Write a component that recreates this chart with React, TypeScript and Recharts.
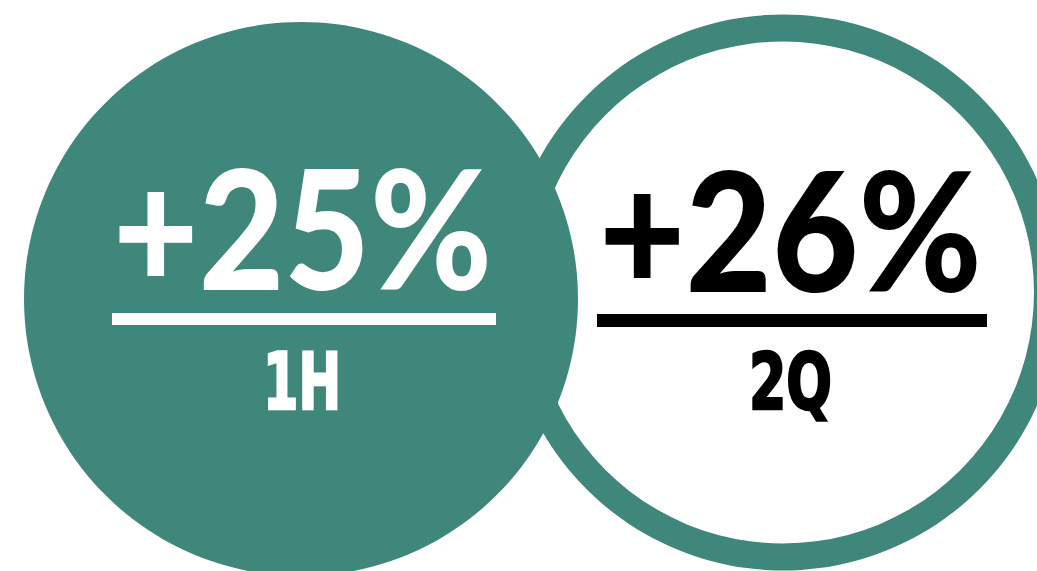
import React from 'react';
import { PieChart, Pie, Cell } from 'recharts';

const periods = ['1H', '2Q'];
const changes = [25, 26];
const changeLabels = ['+25%', '+26%'];

const TEAL = '#40877B';
const W = 1037;
const H = 571;

const leftData = [{ name: periods[0], value: changes[0] }];
const rightData = [{ name: periods[1], value: changes[1] }];

const bigFont = "Lato, 'Open Sans', 'DejaVu Sans', sans-serif";
const smallFont = "'Liberation Sans Narrow', 'DejaVu Sans Condensed', 'Liberation Sans', sans-serif";

type Layout = {
  color: string;
  bigX: number; bigY: number; bigLen: number;
  barX: number; barY: number; barW: number; barH: number;
  smallX: number; smallY: number; smallLen: number;
};

const layouts: Layout[] = [
  { color: '#fff', bigX: 113, bigY: 290, bigLen: 379, barX: 112, barY: 313, barW: 384, barH: 12, smallX: 263, smallY: 409, smallLen: 78 },
  { color: '#000', bigX: 599, bigY: 292, bigLen: 383, barX: 597, barY: 314, barW: 390, barH: 13, smallX: 749, smallY: 409, smallLen: 83 },
];

function makeLabel(i: number) {
  const l = layouts[i];
  return () => (
    <g>
      <text
        x={l.bigX}
        y={l.bigY}
        fill={l.color}
        fontFamily={bigFont}
        fontWeight={900}
        fontSize={166}
        textLength={l.bigLen}
        lengthAdjust="spacingAndGlyphs"
        textAnchor="start"
      >
        {changeLabels[i]}
      </text>
      <rect x={l.barX} y={l.barY} width={l.barW} height={l.barH} fill={l.color} />
      <text
        x={l.smallX}
        y={l.smallY}
        fill={l.color}
        stroke={l.color}
        strokeWidth={2.5}
        strokeLinejoin="miter"
        fontFamily={smallFont}
        fontWeight={700}
        fontSize={78}
        textLength={l.smallLen}
        lengthAdjust="spacingAndGlyphs"
        textAnchor="start"
      >
        {periods[i]}
      </text>
    </g>
  );
}

export default function App() {
  return (
    <div style={{ position: 'absolute', left: 0, top: 0, width: W, height: H, background: '#fff' }}>
      <PieChart width={W} height={H} margin={{ top: 0, right: 0, bottom: 0, left: 0 }}>
        <Pie
          data={rightData}
          dataKey="value"
          cx={783}
          cy={292.5}
          innerRadius={251}
          outerRadius={278}
          startAngle={90}
          endAngle={-270}
          stroke="none"
          label={makeLabel(1)}
          labelLine={false}
          isAnimationActive={false}
        >
          <Cell fill={TEAL} />
        </Pie>
        <Pie
          data={leftData}
          dataKey="value"
          cx={301}
          cy={299}
          innerRadius={0}
          outerRadius={277}
          startAngle={90}
          endAngle={-270}
          stroke="none"
          label={makeLabel(0)}
          labelLine={false}
          isAnimationActive={false}
        >
          <Cell fill={TEAL} />
        </Pie>
      </PieChart>
    </div>
  );
}
